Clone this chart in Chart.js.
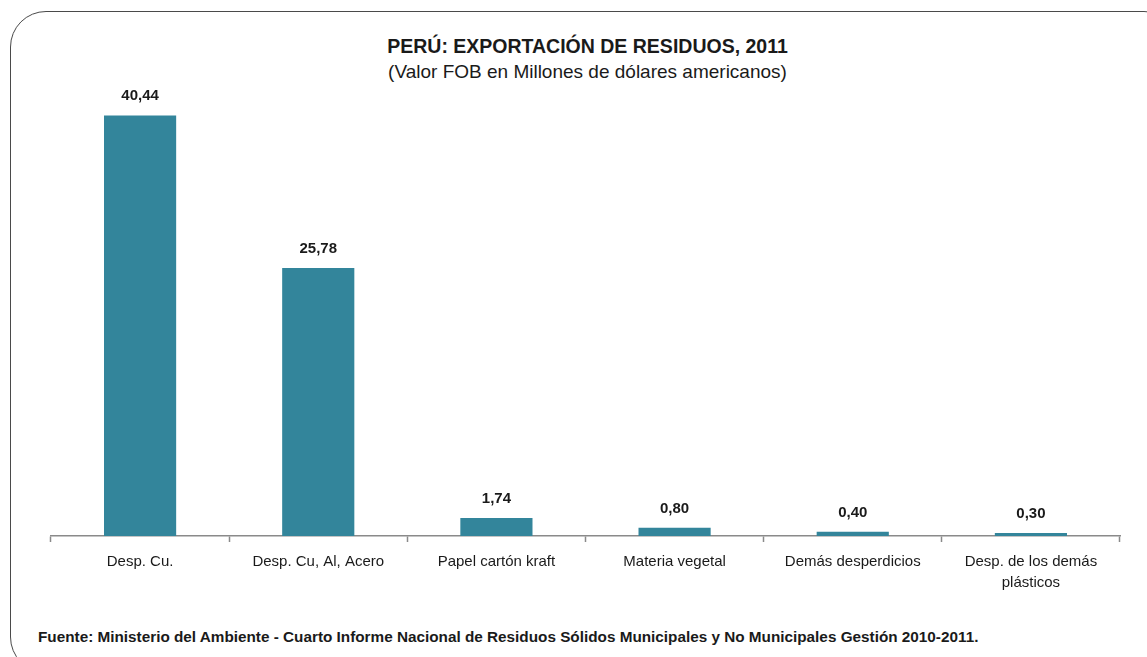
<!DOCTYPE html>
<html lang="es">
<head>
<meta charset="utf-8">
<title>Perú: Exportación de residuos, 2011</title>
<script src="https://cdn.jsdelivr.net/npm/chart.js@4.4.1/dist/chart.umd.min.js"></script>
<style>
  html, body { margin: 0; padding: 0; background: #fff; }
  body {
    width: 1147px; height: 657px; overflow: hidden; position: relative;
    font-family: "Liberation Sans Narrow", "Arial Narrow", "Liberation Sans", Arial, sans-serif;
    color: #1a1a1a;
  }
  .frame {
    position: absolute; left: 10px; top: 11px; width: 1170px; height: 662px;
    border: 1.5px solid #4a4a4a; border-radius: 36px; box-sizing: border-box;
  }
  .heading {
    position: absolute; left: 14px; top: 33px; width: 1147px; text-align: center;
  }
  .heading .main { font-weight: bold; font-size: 19.5px; line-height: 26px; }
  .heading .sub { font-size: 19px; line-height: 26px; }
  .chart-box { position: absolute; left: 0; top: 0; width: 1147px; height: 600px; }
  .source {
    position: absolute; left: 38px; top: 628px; font-size: 15.3px; font-weight: bold;
  }
</style>
</head>
<body>
<div class="frame"></div>
<div class="heading">
  <div class="main">PERÚ: EXPORTACIÓN DE RESIDUOS, 2011</div>
  <div class="sub">(Valor FOB en Millones de dólares americanos)</div>
</div>
<div class="chart-box"><canvas id="chart"></canvas></div>
<div class="source">Fuente: Ministerio del Ambiente - Cuarto Informe Nacional de Residuos Sólidos Municipales y No Municipales Gestión 2010-2011.</div>

<script>
/* --- Data --- */
const categories = [
  'Desp. Cu.',
  'Desp. Cu, Al, Acero',
  'Papel cartón kraft',
  'Materia vegetal',
  'Demás desperdicios',
  ['Desp. de los demás', 'plásticos']
];
const fobValues = [40.44, 25.78, 1.74, 0.80, 0.40, 0.30];

const FONT = "'Liberation Sans Narrow', 'Arial Narrow', 'Liberation Sans', Arial, sans-serif";

/* --- Value labels above the bars --- */
const valueLabels = {
  id: 'valueLabels',
  afterDatasetsDraw(chart) {
    const ctx = chart.ctx;
    const meta = chart.getDatasetMeta(0);
    ctx.save();
    ctx.font = 'bold 15px ' + FONT;
    ctx.fillStyle = '#1a1a1a';
    ctx.textAlign = 'center';
    ctx.textBaseline = 'alphabetic';
    meta.data.forEach((bar, i) => {
      const txt = fobValues[i].toFixed(2).replace('.', ',');
      ctx.fillText(txt, bar.x, bar.y - 15);
    });
    ctx.restore();
  }
};

const canvas = document.getElementById('chart');
canvas.width = 1147;
canvas.height = 600;

new Chart(canvas, {
  type: 'bar',
  data: {
    labels: categories,
    datasets: [{
      data: fobValues,
      backgroundColor: '#33859b',
      borderWidth: 0,
      categoryPercentage: 1,
      barPercentage: 0.405
    }]
  },
  options: {
    responsive: false,
    animation: false,
    layout: { padding: { left: 51, right: 27, top: 68, bottom: 4 } },
    scales: {
      x: {
        afterFit(scale) { scale.height = 60; },
        grid: {
          display: true,
          drawOnChartArea: false,
          drawTicks: true,
          tickLength: 6,
          tickWidth: 1.5,
          color: '#8a8a8a',
          offset: true
        },
        border: { display: true, color: '#8a8a8a', width: 1.5 },
        ticks: {
          color: '#1a1a1a',
          padding: 10,
          maxRotation: 0,
          autoSkip: false,
          font: { family: FONT, size: 15, lineHeight: 1.35 }
        }
      },
      y: {
        display: false,
        min: 0,
        max: 45
      }
    },
    plugins: {
      legend: { display: false },
      tooltip: { enabled: false }
    }
  },
  plugins: [valueLabels]
});
</script>
</body>
</html>
